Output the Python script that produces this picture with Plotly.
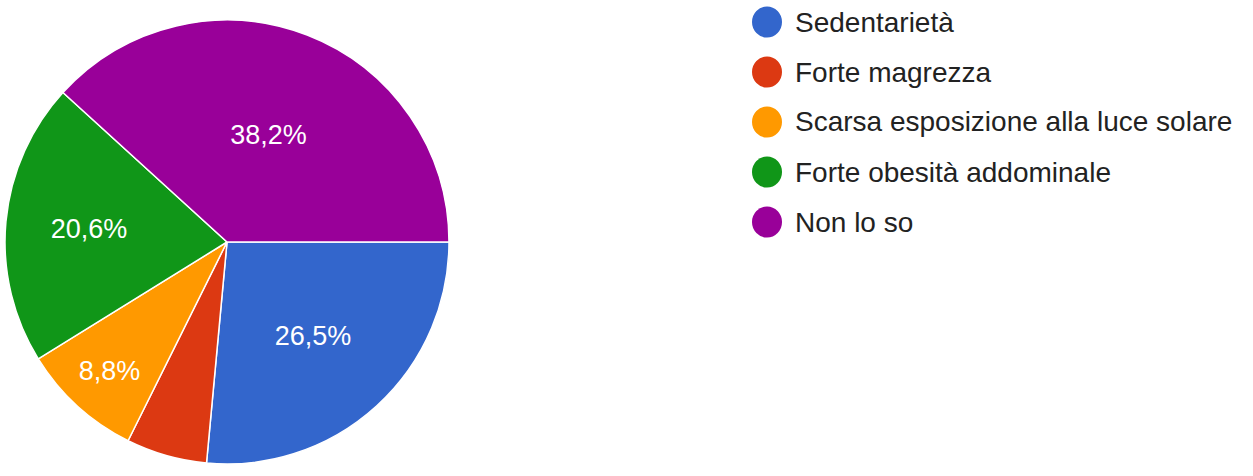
import plotly.graph_objects as go

categories = ["Sedentarietà", "Forte magrezza", "Scarsa esposizione alla luce solare",
              "Forte obesità addominale", "Non lo so"]
counts = [9, 2, 3, 7, 13]
colors = ["#3366cc", "#dc3912", "#ff9900", "#109618", "#990099"]
show_label = [True, False, True, True, True]

W, H = 1253, 476
cx, cy, r = 227, 242, 222

fig = go.Figure()
fig.add_trace(go.Pie(
    labels=categories,
    values=counts,
    sort=False,
    direction="clockwise",
    rotation=90,
    marker=dict(colors=colors, line=dict(color="white", width=1.5)),
    texttemplate=["%{percent:.1%}" if s else "" for s in show_label],
    textposition="inside",
    insidetextfont=dict(color="white", size=27, family="Liberation Sans, Arial, sans-serif"),
    insidetextorientation="horizontal",
    showlegend=False,
    hoverinfo="label+percent",
    domain=dict(x=[(cx - r) / W, (cx + r) / W],
                y=[(H - cy - r) / H, (H - cy + r) / H]),
))

# legend built from circles + text
for i, (cat, col) in enumerate(zip(categories, colors)):
    yc = 22 + 50 * i
    xc = 767
    fig.add_shape(type="circle", xref="paper", yref="paper",
                  x0=(xc - 15) / W, x1=(xc + 15) / W,
                  y0=1 - (yc + 15.5) / H, y1=1 - (yc - 15.5) / H,
                  fillcolor=col, line=dict(width=0))
    fig.add_annotation(x=793 / W, y=1 - yc / H, xref="paper", yref="paper",
                       text=cat, showarrow=False, xanchor="left", yanchor="middle",
                       font=dict(size=28, color="#222222",
                                 family="Liberation Sans, Arial, sans-serif"))

fig.update_layout(
    width=W, height=H,
    margin=dict(l=0, r=0, t=0, b=0),
    paper_bgcolor="white",
    plot_bgcolor="white",
    separators=",.",
    showlegend=False,
)
fig.write_html("out.html",
               config={"displayModeBar": False},
               post_script="document.body.style.margin='0';document.body.style.overflow='hidden';")
